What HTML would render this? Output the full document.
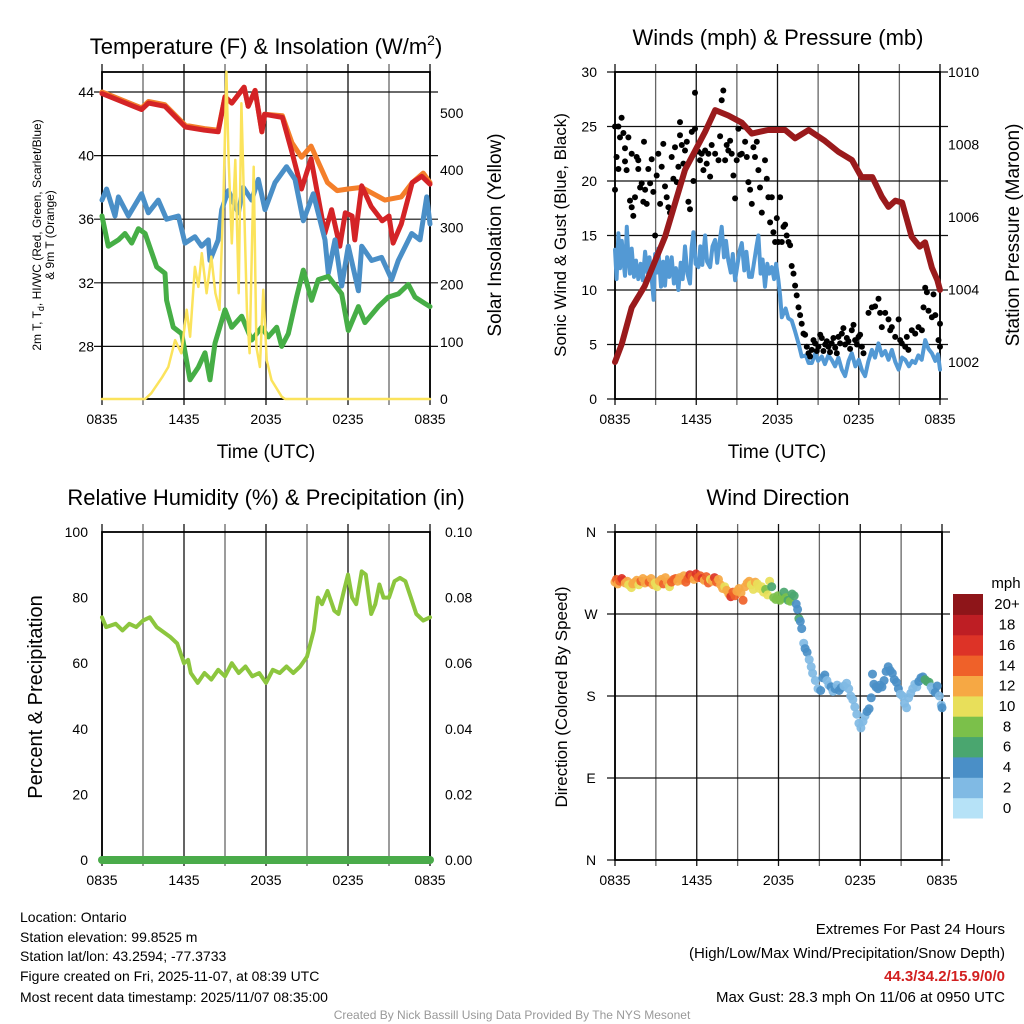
<!DOCTYPE html>
<html><head><meta charset="utf-8"><style>
html,body{margin:0;padding:0;background:#fff;}
svg{display:block;font-family:"Liberation Sans",sans-serif;}
</style></head><body>
<svg id="fig" width="1024" height="1024" viewBox="0 0 1024 1024" xmlns="http://www.w3.org/2000/svg">
<rect x="0" y="0" width="1024" height="1024" fill="#fff"/>
<!-- titles -->
<text x="266" y="54" font-size="22" text-anchor="middle">Temperature (F) &amp; Insolation (W/m<tspan font-size="14" dy="-9">2</tspan><tspan dy="9">)</tspan></text>
<text x="778" y="45" font-size="22" text-anchor="middle">Winds (mph) &amp; Pressure (mb)</text>
<text x="266" y="505" font-size="22" text-anchor="middle">Relative Humidity (%) &amp; Precipitation (in)</text>
<text x="778" y="505" font-size="22" text-anchor="middle">Wind Direction</text>
<!-- axis titles -->
<text x="266" y="458" font-size="19" text-anchor="middle">Time (UTC)</text>
<text x="777" y="458" font-size="19" text-anchor="middle">Time (UTC)</text>
<text transform="translate(41,235) rotate(-90)" font-size="12" text-anchor="middle">2m T, T<tspan font-size="9" dy="3">d</tspan><tspan dy="-3">, HI/WC (Red, Green, Scarlet/Blue)</tspan></text>
<text transform="translate(54,235) rotate(-90)" font-size="12" text-anchor="middle">&amp; 9m T (Orange)</text>
<text transform="translate(501,235) rotate(-90)" font-size="19" text-anchor="middle">Solar Insolation (Yellow)</text>
<text transform="translate(566,235) rotate(-90)" font-size="17" text-anchor="middle">Sonic Wind &amp; Gust (Blue, Black)</text>
<text transform="translate(1019,235) rotate(-90)" font-size="19" text-anchor="middle">Station Pressure (Maroon)</text>
<text transform="translate(42,697) rotate(-90)" font-size="20" text-anchor="middle">Percent &amp; Precipitation</text>
<text transform="translate(567,697) rotate(-90)" font-size="17" text-anchor="middle">Direction (Colored By Speed)</text>
<text x="1006" y="588" font-size="15" text-anchor="middle">mph</text>
<!-- footer -->
<g font-size="14">
<text x="20" y="922">Location: Ontario</text>
<text x="20" y="942">Station elevation: 99.8525 m</text>
<text x="20" y="961">Station lat/lon: 43.2594; -77.3733</text>
<text x="20" y="981">Figure created on Fri, 2025-11-07, at 08:39 UTC</text>
<text x="20" y="1002">Most recent data timestamp: 2025/11/07 08:35:00</text>
</g>
<g font-size="15" text-anchor="end">
<text x="1005" y="934">Extremes For Past 24 Hours</text>
<text x="1005" y="958">(High/Low/Max Wind/Precipitation/Snow Depth)</text>
<text x="1005" y="981" fill="#d22020" font-weight="bold">44.3/34.2/15.9/0/0</text>
<text x="1005" y="1002">Max Gust: 28.3 mph On 11/06 at 0950 UTC</text>
</g>
<text x="512" y="1019" font-size="12" fill="#999" text-anchor="middle">Created By Nick Bassill Using Data Provided By The NYS Mesonet</text>
<g id="layer"></g>
</svg>
<script>
// ---------- data ----------
const xTickLabels = ["0835","1435","2035","0235","0835"];
const xTickHours = [0,6,12,18,24];
const tempTicks = [44,40,36,32,28];
const solarTicks = [0,100,200,300,400,500];
const windTicks = [0,5,10,15,20,25,30];
const pressTicks = [1002,1004,1006,1008,1010];
const rhTicks = [0,20,40,60,80,100];
const precipTicks = ["0.00","0.02","0.04","0.06","0.08","0.10"];
const dirTickLabels = ["N","E","S","W","N"];
const dirTickValues = [0,90,180,270,360];
const cbLabels = ["0","2","4","6","8","10","12","14","16","18","20+"];
const cbColors = ["#b6e2f7","#80bae4","#4a8fc7","#4aa66f","#7bc04a","#e8df5a","#f6a844","#ef6129","#dd3327","#be1e24","#8e1519"];

const redH = [0,2.9,3.4,4.6,6.1,7.5,8.5,9.0,9.5,10.4,10.7,11.2,11.7,11.9,13.2,13.9,14.6,15.3,16.3,16.8,17.4,17.8,18.3,18.5,19.0,19.7,20.5,21.0,21.3,21.9,22.7,23.4,24];
const redV = [43.9,42.9,43.3,43.1,41.8,41.6,41.5,43.7,43.3,44.3,43.1,44.1,41.5,42.6,42.4,40.2,37.9,39.8,35.1,36.6,34.3,36.4,36.2,34.7,38.1,36.8,35.9,36.2,34.5,35.7,38.3,38.7,38.2];
const orangeH = [0,2.9,3.4,4.6,6.1,7.5,8.5,9.0,9.5,10.4,10.7,11.2,11.7,11.9,13.2,13.9,14.6,15.3,16.5,17.2,18.0,19.0,20.7,21.9,22.7,23.5,24];
const orangeV = [44.0,43.0,43.4,43.2,41.9,41.7,41.6,43.7,43.3,44.3,43.1,44.1,41.5,42.6,42.5,40.8,39.9,40.6,38.3,37.8,37.9,38.0,37.2,37.4,38.3,38.9,38.3];
const blueTH = [0,.34,.95,1.2,1.93,2.9,3.39,4.12,4.73,5.59,6.07,6.8,7.29,7.78,7.9,8.5,8.76,9.24,9.98,10.34,10.95,11.44,11.93,12.66,13.5,14.12,14.73,15.46,16.32,16.56,17.05,17.54,18.02,18.76,19.0,19.73,20.46,21.2,21.68,22.66,23.27,23.76,24];
const blueTV = [37.2,37.9,36.2,37.4,36.2,37.6,36.4,37.2,36.0,36.2,34.5,34.9,34.3,34.7,33.4,34.7,36.6,37.8,36.4,38.0,37.2,38.5,36.6,38.3,39.3,38.5,35.9,37.6,34.7,32.6,34.7,31.8,34.3,31.5,34.3,33.4,33.6,32.2,33.4,35.1,34.7,37.4,35.7];
const greenH = [0,.46,1.2,1.68,2.17,2.66,3.15,4.0,4.61,4.73,5.22,5.83,6.44,7.05,7.54,7.9,8.27,9.0,9.49,10.22,10.95,11.68,12.17,12.78,13.15,13.63,14.24,14.73,15.34,15.83,16.56,17.54,18.02,18.76,19.24,20.22,20.95,21.68,22.41,22.9,23.63,24];
const greenV = [36.2,34.3,34.7,35.1,34.5,35.4,35.1,33.0,32.6,30.9,29.2,28.8,25.9,26.7,27.6,25.9,28.2,30.3,29.2,29.9,28.4,29.2,28.6,29.2,28.0,28.8,31.1,32.8,30.9,32.2,32.4,31.3,29.0,30.5,29.5,30.5,31.1,31.3,31.9,31.1,30.7,30.5];
const solarH = [0,3.15,3.6,4.4,4.85,5.35,5.8,6.2,6.45,6.8,7.05,7.3,7.65,8.0,8.3,8.6,8.9,9.1,9.25,9.5,9.75,10.0,10.2,10.6,10.8,11.1,11.3,11.55,11.8,12.05,12.4,13.15,13.4,24];
const solarV = [0,0,10,38,56,103,80,156,109,231,196,255,185,249,185,156,360,572,430,272,418,185,517,156,80,406,91,56,191,68,33,4,0,0];

const windH = [0,.12,.25,.37,.5,.62,.74,.87,.99,1.1,1.23,1.4,1.55,1.72,1.9,2.05,2.22,2.4,2.55,2.71,2.85,2.96,3.08,3.2,3.4,3.55,3.69,3.85,4.0,4.19,4.35,4.5,4.68,4.85,5.0,5.17,5.35,5.54,5.65,5.79,5.95,6.16,6.3,6.45,6.65,6.8,7.02,7.2,7.39,7.55,7.7,7.88,8.05,8.2,8.37,8.55,8.7,8.87,9.05,9.2,9.36,9.55,9.7,9.9,10.1,10.3,10.45,10.59,10.75,10.9,11.08,11.25,11.4,11.58,11.75,11.9,12.07,12.2,12.32,12.6,12.8,13.05,13.3,13.55,13.79,14.1,14.3,14.53,14.8,15.0,15.27,15.5,15.75,16.0,16.25,16.5,16.75,16.99,17.25,17.49,17.75,18.0,18.25,18.47,18.7,18.97,19.2,19.46,19.7,19.95,20.2,20.45,20.7,20.94,21.2,21.43,21.7,21.95,22.17,22.4,22.65,22.91,23.15,23.4,23.65,23.85,24];
const windV = [13.7,11.0,15.2,12.0,14.5,12.7,11.3,15.8,13.0,11.5,13.8,11.2,12.7,11.0,12.4,10.9,13.5,11.6,13.0,11.0,9.1,13.3,11.6,13.8,10.3,12.6,10.4,13.0,11.2,13.0,10.6,12.0,10.0,12.5,11.0,14.0,11.5,10.6,13.8,15.3,12.4,12.1,14.0,12.3,15.0,12.6,12.1,14.0,14.6,12.5,14.2,15.8,13.0,14.5,12.7,11.6,13.3,10.9,12.4,13.6,14.3,11.8,13.5,11.2,11.2,12.8,14.0,15.0,11.5,12.8,10.3,12.4,11.5,12.1,11.0,12.4,10.9,9.4,7.5,8.3,7.4,7.2,6.2,5.1,3.9,4.0,3.3,3.3,4.2,3.5,3.9,3.2,4.0,3.6,3.0,3.8,2.7,2.1,3.5,4.2,3.0,3.6,2.6,2.1,3.4,4.5,3.8,5.1,4.0,4.4,3.6,4.5,3.4,2.7,3.8,3.6,3.0,3.5,3.3,4.0,3.6,5.4,4.6,4.2,3.5,4.1,2.7];
const gustH = [0,0,.12,.25,.25,.37,.49,.62,.74,.74,.86,.99,1.11,1.23,1.23,1.35,1.48,1.6,1.72,1.72,1.85,1.97,2.09,2.14,2.22,2.34,2.46,2.59,2.71,2.83,2.96,3.08,3.2,3.33,3.45,3.57,3.69,3.82,3.94,4.06,4.19,4.31,4.43,4.56,4.68,4.8,4.8,4.93,5.05,5.17,5.3,5.42,5.54,5.67,5.79,5.91,5.91,6.16,6.28,6.4,6.53,6.65,6.77,6.9,7.02,7.14,7.39,7.64,7.76,7.88,8.0,8.13,8.25,8.37,8.5,8.62,8.74,8.87,8.99,9.11,9.24,9.36,9.48,9.61,9.73,9.85,9.98,10.1,10.22,10.34,10.47,10.59,10.71,10.84,11.08,11.21,11.33,11.45,11.58,11.7,11.82,11.95,12.07,12.19,12.32,12.44,12.56,12.68,12.81,12.93,13.05,13.18,13.3,13.42,13.55,13.67,13.79,13.92,14.04,14.16,14.29,14.53,14.78,15.02,15.27,15.52,15.76,16.0,16.26,16.5,16.75,16.99,17.24,17.49,17.73,17.98,18.23,18.35,18.72,18.97,19.21,19.46,19.58,19.7,19.95,20.2,20.32,20.44,20.69,20.94,21.06,21.18,21.43,21.55,21.67,21.92,22.17,22.41,22.66,22.78,22.91,23.03,23.15,23.4,23.52,23.65,23.89,24,24,14.41,14.66,14.9,15.15,15.39,15.64,15.88,16.13,16.38,16.62,16.87,17.12,17.36,17.61,17.86,18.1];
const gustV = [25,19.2,22.2,25,21.1,24,25.8,24.4,23,21.8,21,24,18.2,22.5,17.6,16.8,18.5,22.2,21.1,21.9,19.4,19.8,18.1,23.6,19.2,17.9,21.1,19.8,22,19,15,20.5,22.5,17.9,21.3,23.4,19.5,18.5,17.6,17.1,22.2,20.2,23.1,19.9,21.3,25.4,24.2,23.3,21.6,22.8,23.6,18.1,17.4,24.5,20,28.1,24.8,22.7,21.9,22.5,21,22.8,21.6,22.5,20.4,23.3,22.5,21.9,24.1,27.4,28.3,21.9,23.3,22.8,23.7,22.5,20.5,18.4,21.9,24.8,22.4,22.5,25,23.6,22.2,19.9,19.2,17.9,23.1,22.2,23.6,21,19.4,17.1,21.9,20.2,18.5,16.2,18.5,15.3,14.4,16.6,14.4,18.5,14.4,15.8,16,15,14.4,14.1,12.2,11.5,10.4,9.5,8.4,7.7,6.9,6,5.9,4.8,4.2,4.5,5.1,4.8,5.6,5,4.8,5.1,4.7,5.7,6,5,5.3,6.3,5.4,5.7,4.8,4.2,7.9,8.4,8.5,9.2,7.9,6.6,7.9,7.3,6.3,6.6,5.7,7.3,5.4,5.1,4.8,5.7,4.5,6.3,6,6.6,6.3,8.4,10.2,9.8,8.1,7.5,9.6,7.7,5.4,6.9,4.8,3.9,5.4,4.4,5.9,4.4,5.3,4.3,5.6,4.2,5.1,6.5,5.6,4.6,6.8,5.0,5.9];
const pressH = [0,.5,1.23,2.2,3.7,5.17,6.65,7.4,8.37,9.36,10.1,11.3,12.56,13.3,14.3,15.5,16.5,17.5,18.2,19.0,19.7,20.2,20.7,21.2,21.9,22.5,22.9,23.4,23.8,24];
const pressV = [1002.0,1002.5,1003.5,1004.1,1005.46,1007.3,1008.35,1008.95,1008.8,1008.6,1008.3,1008.4,1008.4,1008.17,1008.4,1008.1,1007.8,1007.57,1007.1,1007.1,1006.56,1006.28,1006.45,1006.4,1005.46,1005.18,1005.3,1004.6,1004.26,1003.99];

const rhH = [0,.3,1,1.5,2,2.5,3,3.5,4,5,5.5,6,6.3,6.5,7,7.5,8,8.5,9,9.5,10,10.5,11,11.5,12,12.5,13,13.5,14,14.5,15,15.5,15.8,16.1,16.5,17,17.3,17.7,18,18.3,18.6,19,19.3,19.7,20,20.3,20.6,21,21.4,21.8,22.2,22.6,23,23.5,24];
const rhV = [74,71,72,70,72,71,73,74,71,68,66,60,61,57,54,57,55,58,56,60,57,59,56,57,54,58,57,59,57,59,62,70,80,78,82,76,75,82,87,80,78,88,87,75,78,84,80,80,85,86,85,80,75,73,74];
const precipH = [0,24];
const precipV = [0,0];

const dirH = [0,0.1,0.2,0.35,0.5,0.6,0.75,0.9,1.0,1.2,1.3,1.45,1.6,1.75,1.9,2.05,2.2,2.35,2.5,2.65,2.8,2.95,3.1,3.25,3.4,3.55,3.7,3.85,4.0,4.15,4.3,4.45,4.6,4.75,4.9,5.05,5.2,5.35,5.5,5.65,5.8,5.95,6.1,6.25,6.4,6.55,6.7,6.85,7.0,7.15,7.3,7.45,7.6,7.75,7.9,8.05,8.2,8.35,8.5,8.65,8.8,8.95,9.1,9.25,9.4,9.55,9.7,9.85,10.0,10.15,10.3,10.45,10.6,10.75,10.9,11.05,11.2,11.35,11.5,11.65,11.8,11.95,12.1,12.25,12.4,12.55,12.7,12.85,13.0,13.15,13.3,13.4,13.5,13.6,13.7,13.85,13.95,14.1,14.25,14.4,14.5,14.7,14.9,15.1,15.25,15.4,15.55,15.7,15.85,16.0,16.15,16.3,16.45,16.6,16.8,17.0,17.15,17.3,17.45,17.6,17.75,17.9,18.05,18.2,18.35,18.5,18.65,18.8,18.9,19.0,19.15,19.3,19.45,19.6,19.75,19.9,20.05,20.2,20.35,20.5,20.65,20.8,20.95,21.1,21.25,21.4,21.55,21.7,21.85,22.0,22.15,22.3,22.45,22.6,22.75,22.9,23.05,23.2,23.35,23.5,23.65,23.8,23.95,24];
const dirDeg = [305,308,303,306,309,307,304,306,302,299,303,305,307,302,306,309,304,307,305,309,302,304,300,306,308,303,310,305,300,305,308,309,306,310,307,312,305,309,313,311,308,314,310,312,309,307,311,304,308,306,310,305,308,302,298,300,296,292,289,294,290,295,298,293,285,300,304,306,302,297,305,303,298,300,294,297,291,306,300,288,286,290,285,287,294,288,285,284,292,290,281,275,265,262,254,238,232,228,220,212,205,197,188,186,200,203,197,192,190,185,188,192,186,189,191,194,188,180,176,168,160,150,145,152,158,163,166,178,204,193,190,188,192,190,197,207,212,208,205,198,195,188,182,180,172,167,178,183,188,193,190,196,200,201,198,196,195,190,186,184,191,180,170,167];
const dirSpd = [13,15,12,14,17,16,13,12,10,10,12,13,13,11,14,12,13,12,14,12,13,11,11,13,12,14,13,12,10,14,15,14,13,12,12,13,15,14,16,15,12,16,14,15,16,12,15,14,11,12,16,15,12,12,13,11,12,12,16,15,14,12,13,12,14,12,13,12,11,10,12,10,11,11,10,8,10,10,7,9,8,8,9,8,7,9,7,8,7,6,4.5,4.5,6.5,4.5,4.5,3,4.5,4.5,3,3,3,3,3,4.5,4.5,4.5,3,3,4.5,3,4.5,3,4.5,4.5,3,3,3,3,3,3,3,3,3,3,3,4.5,4.5,4.5,4.5,4.5,4.5,4.5,4.5,4.5,4.5,4.5,4.5,4.5,4.5,4.5,4.5,4.5,3,3,3,3,3,3,3,3,3,4.5,4.5,4.5,6.5,6.5,6.5,3,3,4.5,4.5,3,3,4.5,4.5];

// ---------- scales ----------
const NS = "http://www.w3.org/2000/svg";
const layer = document.getElementById("layer");
const P1 = {x0:102,x1:430,y0:72,y1:399};
const P2 = {x0:615,x1:940,y0:72,y1:399};
const P3 = {x0:102,x1:430,y0:532,y1:860};
const P4 = {x0:615,x1:942,y0:532,y1:860};
const xs = (P) => (h) => P.x0 + h*(P.x1-P.x0)/24;
const yTemp = (t) => 92 + (44-t)*15.9;
const ySolar = (w) => 399 - w*0.572;
const yWind = (v) => 399 - v*10.9;
const yPress = (p) => 72 + (1010-p)*36.25;
const yRH = (r) => 860 - r*3.28;
const yPrecip = (p) => 860 - p*3280;
const yDir = (d) => 532 + (360-d)*328/360;

function mk(tag, attrs, parent){
  const e = document.createElementNS(NS, tag);
  for (const k in attrs) e.setAttribute(k, attrs[k]);
  (parent||layer).appendChild(e);
  return e;
}
function pathD(H, V, fx, fy){
  return H.map((h,i)=>(i?"L":"M")+fx(h).toFixed(1)+","+fy(V[i]).toFixed(1)).join("");
}

// ---------- frames & grids ----------
function frame(P, name, hLines){
  const g = mk("g", {});
  
  
  const fx = xs(P);
  for (let h=0; h<=24; h+=3){
    const ln = mk("line", {x1:fx(h), x2:fx(h), y1:P.y0-8, y2:P.y1+6, stroke:(h%6===0)?"#111":"#666", "stroke-width":1.3}, g);
    
    
  }
  hLines.forEach(y=>{
    const ln = mk("line", {x1:P.x0-8, x2:P.x1+8, y1:y, y2:y, stroke:"#111", "stroke-width":1.2}, g);
    
    
  });
  const r = mk("rect", {x:P.x0, y:P.y0, width:P.x1-P.x0, height:P.y1-P.y0, fill:"none", stroke:"#000", "stroke-width":1.8}, g);
  
  
  xTickHours.forEach((h,i)=>{
    const t = mk("text", {x:fx(h), y:P.y1+25, "font-size":14, "text-anchor":"middle"}, g);
    t.textContent = xTickLabels[i];
    
    
  });
  return g;
}
function yLabels(vals, labels, fy, x, anchor, name){
  vals.forEach((v,i)=>{
    const t = mk("text", {x:x, y:fy(v)+5, "font-size":14, "text-anchor":anchor});
    t.textContent = labels[i];
    
    
  });
}
frame(P1, "temperature", tempTicks.map(yTemp));
frame(P2, "winds", windTicks.map(yWind));
frame(P3, "humidity", []);
frame(P4, "direction", dirTickValues.map(yDir));

yLabels(tempTicks, tempTicks.map(String), yTemp, 94, "end", "temperature-y-tick-label");
yLabels(solarTicks, solarTicks.map(String), ySolar, 440, "start", "solar-y-tick-label");
yLabels(windTicks, windTicks.map(String), yWind, 597, "end", "wind-y-tick-label");
yLabels(pressTicks, pressTicks.map(String), yPress, 948, "start", "pressure-y-tick-label");
yLabels(rhTicks, rhTicks.map(String), yRH, 88, "end", "humidity-y-tick-label");
yLabels(rhTicks.map((r,i)=>i*0.02), precipTicks, yPrecip, 445, "start", "precip-y-tick-label");
yLabels(dirTickValues, dirTickLabels, yDir, 591, "middle", "direction-y-tick-label");

// ---------- series ----------
const fx1 = xs(P1), fx2 = xs(P2), fx3 = xs(P3), fx4 = xs(P4);
function line(d, color, w, name){
  const p = mk("path", {d:d, fill:"none", stroke:color, "stroke-width":w, "stroke-linejoin":"round", "stroke-linecap":"round"});
  
  
  return p;
}
line(pathD(orangeH, orangeV, fx1, yTemp), "#f47f2a", 5, "orange-9m-temp-line");
line(pathD(redH, redV, fx1, yTemp), "#d42326", 5, "red-2m-temp-line");
line(pathD(blueTH, blueTV, fx1, yTemp), "#4a8fc7", 5, "blue-heat-index-windchill-line");
line(pathD(greenH, greenV, fx1, yTemp), "#46ae46", 5, "green-dewpoint-line");
line(pathD(solarH, solarV, fx1, ySolar), "#fbe35c", 2.5, "yellow-solar-insolation-line");

line(pathD(windH, windV, fx2, yWind), "#5399d4", 4, "blue-wind-speed-line");
gustH.forEach((h,i)=>{
  const c = mk("circle", {cx:fx2(h).toFixed(1), cy:yWind(gustV[i]).toFixed(1), r:3, fill:"#000"});
  
  
});
line(pathD(pressH, pressV, fx2, yPress), "#9a1a1c", 6, "maroon-pressure-line");

line(pathD(precipH, precipV, fx3, yPrecip), "#4aab4a", 8, "precipitation-line");
line(pathD(rhH, rhV, fx3, yRH), "#8cc63e", 4, "humidity-line");

function speedColor(s){ let b = Math.floor(s/2); if (b>10) b=10; if (b<0) b=0; return cbColors[b]; }
dirH.forEach((h,i)=>{
  const c = mk("circle", {cx:fx4(h).toFixed(1), cy:yDir(dirDeg[i]).toFixed(1), r:4.5, fill:speedColor(dirSpd[i]), "fill-opacity":0.92});
  
  
});

// ---------- colorbar ----------
const cbTop = 594, cbH = 224/11;
cbColors.forEach((col,i)=>{
  const y = cbTop + (10-i)*cbH;
  const r = mk("rect", {x:953, y:y.toFixed(1), width:30, height:(cbH+0.5).toFixed(1), fill:col});
  
  
  const t = mk("text", {x:1007, y:(y+cbH/2+5).toFixed(1), "font-size":15, "text-anchor":"middle"});
  t.textContent = cbLabels[i];
  
  
});
</script>
</body></html>
